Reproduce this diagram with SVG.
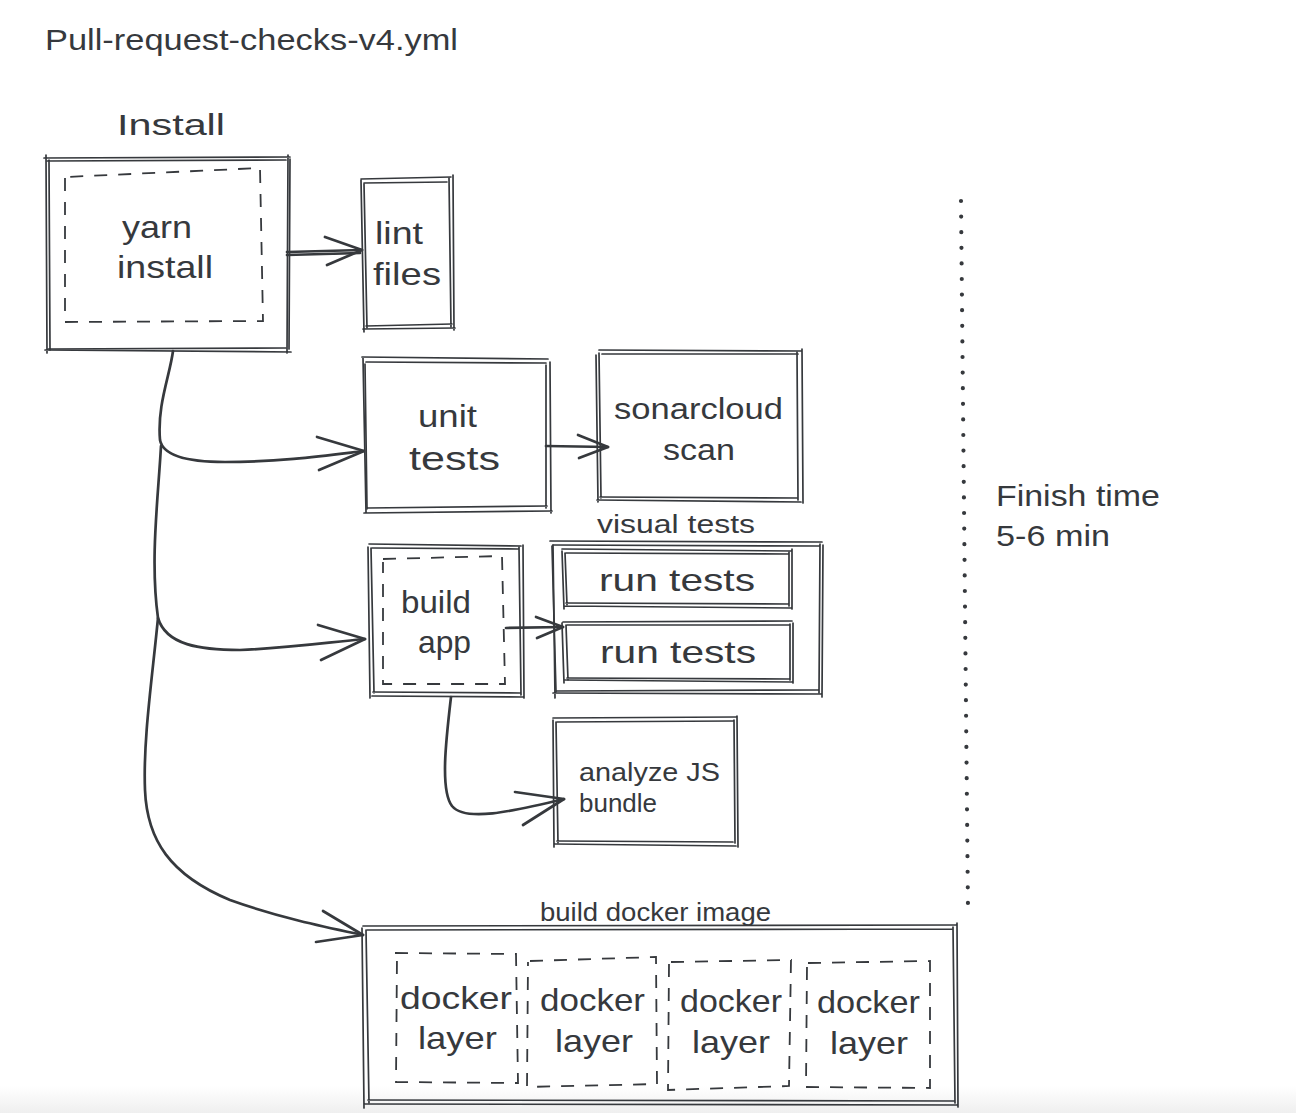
<svg xmlns="http://www.w3.org/2000/svg" width="1296" height="1113" viewBox="0 0 1296 1113">
<defs>
<linearGradient id="bg" x1="0" y1="0" x2="0" y2="1">
<stop offset="0" stop-color="#ffffff"/>
<stop offset="1" stop-color="#efefef"/>
</linearGradient>
<style>
.s{fill:none;stroke:#36393d;stroke-width:1.7;stroke-linecap:round;stroke-linejoin:round}
.d{fill:none;stroke:#36393d;stroke-width:1.8;stroke-dasharray:13 11;stroke-linecap:butt}
.a{fill:none;stroke:#36393d;stroke-width:2.7;stroke-linecap:round;stroke-linejoin:round}
.dot{fill:none;stroke:#36393d;stroke-width:4.2;stroke-dasharray:0 15.6;stroke-linecap:round}
text{font-family:"Liberation Sans","DejaVu Sans",sans-serif;fill:#36393d}
</style>
</defs>
<rect x="0" y="0" width="1296" height="1113" fill="#ffffff"/>
<rect x="0" y="1086" width="1296" height="27" fill="url(#bg)"/>

<text x="45" y="50" font-size="30" textLength="413" lengthAdjust="spacingAndGlyphs">Pull-request-checks-v4.yml</text>

<g id="connectors">
<path class="a" d="M287,252 L362,250 M287,255 L360,253"/>
<path class="a" d="M325,237 L362,250 L327,265"/>
<path class="a" d="M546,446 L608,447"/>
<path class="a" d="M578,435 L608,447 L579,458"/>
<path class="a" d="M506,628 L563,627"/>
<path class="a" d="M536,617 L563,627 L537,638"/>
<path class="a" d="M451,697 C446,740 440,790 452,806 C465,822 510,812 564,799"/>
<path class="a" d="M515,792 L564,799 L523,825"/>
<path class="a" d="M173,351 C170,375 157,405 160,440 C163,456 190,462 225,462 C280,462 330,455 364,451"/>
<path class="a" d="M317,437 L364,451 L319,470"/>
<path class="a" d="M161,446 C158,500 150,560 158,618 C166,645 200,650 240,650 C290,648 330,642 365,639"/>
<path class="a" d="M318,625 L365,639 L321,660"/>
<path class="a" d="M158,618 C152,680 143,740 145,790 C147,840 170,875 230,900 C280,918 330,928 363,935"/>
<path class="a" d="M323,911 L363,935 L316,942"/>
<path class="dot" d="M961,201 L968,910"/>
</g>

<g id="install">
<text x="117" y="135" font-size="30" textLength="108" lengthAdjust="spacingAndGlyphs">Install</text>
<path class="s" d="M44,158 L290,157 M288,155 L287,353 M291,352 L45,350 M47,353 L46,155"/>
<path class="s" d="M47,161 L286,160 M290,159 L289,349 M286,348 L48,349 M50,350 L49,160"/>
<path class="d" d="M65,178 L65,322 L263,321 L260,168 L66,177"/>
<text x="122" y="238" font-size="32" textLength="70" lengthAdjust="spacingAndGlyphs">yarn</text>
<text x="117" y="278" font-size="32" textLength="96" lengthAdjust="spacingAndGlyphs">install</text>
</g>

<g id="lint-files">
<path class="s" d="M361,179 L451,177 M453,175 L454,330 M455,328 L363,329 M364,332 L361,180"/>
<path class="s" d="M364,183 L447,182 M449,178 L451,327 M452,324 L366,326 M367,328 L364,184"/>
<text x="375" y="244" font-size="32" textLength="48" lengthAdjust="spacingAndGlyphs">lint</text>
<text x="373" y="285" font-size="32" textLength="68" lengthAdjust="spacingAndGlyphs">files</text>
</g>

<g id="unit-tests">
<path class="s" d="M362,357 L548,359 M550,362 L551,513 M552,511 L364,513 M366,512 L363,358"/>
<path class="s" d="M366,362 L546,363 M546,365 L546,508 M547,506 L368,508 M367,509 L365,364"/>
<text x="418" y="427" font-size="32" textLength="59" lengthAdjust="spacingAndGlyphs">unit</text>
<text x="409" y="470" font-size="34" textLength="91" lengthAdjust="spacingAndGlyphs">tests</text>
</g>

<g id="sonarcloud-scan">
<path class="s" d="M599,350 L802,351 M802,349 L803,503 M801,502 L597,500 M598,502 L596,355"/>
<path class="s" d="M602,354 L798,354 M797,352 L798,500 M798,498 L600,497 M601,498 L599,353"/>
<text x="614" y="419" font-size="30" textLength="169" lengthAdjust="spacingAndGlyphs">sonarcloud</text>
<text x="663" y="460" font-size="30" textLength="72" lengthAdjust="spacingAndGlyphs">scan</text>
</g>

<g id="visual-tests">
<text x="597" y="533" font-size="26" textLength="158" lengthAdjust="spacingAndGlyphs">visual tests</text>
<path class="s" d="M550,541 L822,542 M823,545 L822,697 M821,694 L553,693 M555,698 L553,545"/>
<path class="s" d="M553,545 L819,546 M820,544 L819,693 M818,690 L556,691 M556,692 L552,546"/>
<path class="s" d="M562,549 L791,551 M792,549 L792,609 M791,608 L564,606 M564,609 L562,551"/>
<path class="s" d="M566,553 L788,554 M789,552 L789,606 M788,604 L566,603 M567,605 L565,553"/>
<text x="599" y="591" font-size="32" textLength="156" lengthAdjust="spacingAndGlyphs">run tests</text>
<path class="s" d="M563,622 L792,621 M793,623 L793,683 M792,682 L565,680 M564,683 L562,623"/>
<path class="s" d="M567,625 L789,625 M790,624 L790,680 M789,679 L567,678 M568,680 L566,625"/>
<text x="600" y="663" font-size="32" textLength="156" lengthAdjust="spacingAndGlyphs">run tests</text>
</g>

<g id="build-app">
<path class="s" d="M369,544 L521,546 M523,545 L524,698 M523,697 L372,696 M370,698 L368,547"/>
<path class="s" d="M372,548 L518,549 M519,547 L521,695 M520,693 L373,692 M374,693 L371,548"/>
<path class="d" d="M383,559 L502,556 L505,684 L383,684 L383,562"/>
<text x="401" y="613" font-size="32" textLength="70" lengthAdjust="spacingAndGlyphs">build</text>
<text x="418" y="653" font-size="32" textLength="53" lengthAdjust="spacingAndGlyphs">app</text>
</g>

<g id="analyze-js-bundle">
<path class="s" d="M553,718 L736,717 M737,716 L738,847 M736,846 L555,844 M554,847 L553,720"/>
<path class="s" d="M557,722 L733,721 M734,720 L735,843 M733,842 L557,841 M558,843 L556,722"/>
<text x="579" y="781" font-size="26" textLength="141" lengthAdjust="spacingAndGlyphs">analyze JS</text>
<text x="579" y="812" font-size="26" textLength="78" lengthAdjust="spacingAndGlyphs">bundle</text>
</g>

<g id="finish-time">
<text x="996" y="506" font-size="30" textLength="164" lengthAdjust="spacingAndGlyphs">Finish time</text>
<text x="996" y="546" font-size="30" textLength="114" lengthAdjust="spacingAndGlyphs">5-6 min</text>
</g>

<g id="build-docker-image">
<text x="540" y="921" font-size="25" textLength="231" lengthAdjust="spacingAndGlyphs">build docker image</text>
<path class="s" d="M363,926 L956,925 M957,923 L958,1107 M957,1105 L365,1104 M364,1108 L362,928"/>
<path class="s" d="M367,930 L953,929 M953,927 L955,1103 M954,1101 L368,1100 M369,1103 L366,930"/>
</g>

<g id="docker-layer-1">
<path class="d" d="M395,953 L516,954 L518,1083 L396,1082 L397,955"/>
<text x="400" y="1009" font-size="32" textLength="112" lengthAdjust="spacingAndGlyphs">docker</text>
<text x="418" y="1049" font-size="32" textLength="79" lengthAdjust="spacingAndGlyphs">layer</text>
</g>
<g id="docker-layer-2">
<path class="d" d="M530,961 L656,957 L657,1084 L527,1087 L528,962"/>
<text x="540" y="1011" font-size="32" textLength="105" lengthAdjust="spacingAndGlyphs">docker</text>
<text x="555" y="1052" font-size="32" textLength="78" lengthAdjust="spacingAndGlyphs">layer</text>
</g>
<g id="docker-layer-3">
<path class="d" d="M671,962 L791,960 L789,1086 L668,1090 L669,964"/>
<text x="680" y="1012" font-size="32" textLength="102" lengthAdjust="spacingAndGlyphs">docker</text>
<text x="692" y="1053" font-size="32" textLength="78" lengthAdjust="spacingAndGlyphs">layer</text>
</g>
<g id="docker-layer-4">
<path class="d" d="M808,963 L930,961 L930,1088 L806,1087 L807,965"/>
<text x="817" y="1013" font-size="32" textLength="103" lengthAdjust="spacingAndGlyphs">docker</text>
<text x="830" y="1054" font-size="32" textLength="78" lengthAdjust="spacingAndGlyphs">layer</text>
</g>
</svg>
